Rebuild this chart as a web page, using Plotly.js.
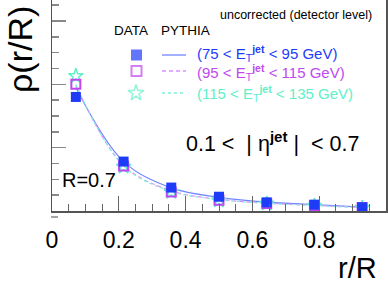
<!DOCTYPE html>
<html><head><meta charset="utf-8">
<script src="https://cdn.plot.ly/plotly-3.0.1.min.js"></script>
<style>html,body{margin:0;padding:0;background:#fff}#c{width:388px;height:287px}</style>
</head><body><div id="c"></div>
<script>
// r/R bin centres
const rR = [0.0714, 0.2143, 0.3571, 0.5, 0.6429, 0.7857, 0.9286];
// DATA (uncorrected), arbitrary units
const data75  = [1.80, 0.78, 0.37, 0.225, 0.137, 0.100, 0.058];
const data95  = [2.00, 0.71, 0.30, 0.170, 0.120, 0.085, 0.055];
const data115 = [2.13, 0.70, 0.30, 0.165, 0.115, 0.080, 0.050];
// PYTHIA curves
const py75  = [1.95, 0.78, 0.365, 0.215, 0.140, 0.100, 0.062];
const py95  = [1.98, 0.72, 0.320, 0.185, 0.125, 0.090, 0.055];
const py115 = [2.00, 0.71, 0.310, 0.180, 0.120, 0.085, 0.052];
const xTickLabels = ["0","0.2","0.4","0.6","0.8","1"];
const xTickVals = [0,0.2,0.4,0.6,0.8,1];
const binLabels = ["(75 < E<sub>T</sub><sup><b>jet</b></sup> < 95 GeV)",
                   "(95 < E<sub>T</sub><sup><b>jet</b></sup> < 115 GeV)",
                   "(115 < E<sub>T</sub><sup><b>jet</b></sup> < 135 GeV)"];

const cBlue='#1e3cf8', cMag='#c048f0', cCyan='#60f0c8';
const lBlue='#7086ff', lMag='#d890ff', lCyan='#80f0d8';
const F='Liberation Sans, Arial, sans-serif';

// pixel -> paper helpers (plot area: x 52..386, y 0..211)
const L=52, R=386, T=0, B=211;
const px = x => (x-L)/(R-L);
const py = y => (B-y)/(B-T);

// legend key symbols, drawn on a pixel-scaled overlay axis
const keyX = [136.5, 136.5, 136];
const keyY = [55, 71, 93];

const traces = [
  {x:rR,y:py75,mode:'lines',line:{color:lBlue,width:1.2,shape:'spline'},hoverinfo:'skip'},
  {x:rR,y:py95,mode:'lines',line:{color:lMag,width:1.2,dash:'4px,3px',shape:'spline'},hoverinfo:'skip'},
  {x:rR,y:py115,mode:'lines',line:{color:lCyan,width:1.2,dash:'dot',shape:'spline'},hoverinfo:'skip'},
  {x:rR,y:data115,mode:'markers',marker:{symbol:'star-open',size:11,color:cCyan,line:{width:1.5,color:cCyan}}},
  {x:rR,y:data95,mode:'markers',marker:{symbol:'square-open',size:9,color:cMag,line:{width:2,color:cMag}}},
  {x:rR,y:data75,mode:'markers',marker:{symbol:'square',size:10,color:cBlue,line:{width:0}}},
  {x:keyX,y:keyY,xaxis:'x2',yaxis:'y2',mode:'markers',cliponaxis:false,
   marker:{symbol:['square','square-open','star-open'],size:[11,10,12],color:[cBlue,cMag,cCyan],
           line:{width:[0,2,1.5],color:[cBlue,cMag,cCyan]}}}
];

const ann = (x,y,text,size,color,extra) => Object.assign({xref:'paper',yref:'paper',x:px(x),y:py(y),text:text,showarrow:false,font:{family:F,size:size,color:color||'#000'},xanchor:'left',yanchor:'middle'},extra||{});

const annotations = [
  ann(112,31,'DATA',13.5),
  ann(159,31,'PYTHIA',13.5),
  ann(218,15,'uncorrected (detector level)',12.5),
  ann(195,54,binLabels[0],15,cBlue),
  ann(195,72,binLabels[1],15,cMag),
  ann(195,93,binLabels[2],15,cCyan),
  ann(184,142,'0.1 <  | η<sup><b>jet</b></sup> |  < 0.7',21.5),
  ann(60,180,'R=0.7',20),
  ann(20,50,'ρ(r/R)',34,'#000',{xanchor:'center',textangle:-90}),
  ann(357,268,'r/R',29,'#000',{xanchor:'center'})
];

const shapes = [
  {type:'line',xref:'paper',yref:'paper',x0:px(162),x1:px(186),y0:py(55),y1:py(55),line:{color:lBlue,width:1.3}},
  {type:'line',xref:'paper',yref:'paper',x0:px(162),x1:px(186),y0:py(71),y1:py(71),line:{color:lMag,width:1.3,dash:'4px,3px'}},
  {type:'line',xref:'paper',yref:'paper',x0:px(162),x1:px(186),y0:py(93),y1:py(93),line:{color:lCyan,width:1.3,dash:'dot'}},
  {type:'line',xref:'paper',yref:'paper',x0:px(51),x1:px(58),y0:py(217),y1:py(217),line:{color:'#888',width:1.5}}
];

const layout = {
  width:388,height:287,
  margin:{l:52,r:2,t:0,b:76,pad:0},
  paper_bgcolor:'#fff',plot_bgcolor:'#fff',
  showlegend:false,
  xaxis:{range:[0,1],showgrid:false,zeroline:false,showline:true,linecolor:'#555',linewidth:1.5,mirror:false,
         ticks:'inside',ticklen:15,tickcolor:'#666',tickwidth:1,tickvals:xTickVals,ticktext:xTickLabels,
         minor:{ticks:'inside',ticklen:7,dtick:0.05,tickcolor:'#666',tickwidth:1,showgrid:false},
         tickfont:{family:F,size:23,color:'#000'},ticklabelstandoff:8,automargin:false},
  yaxis:{range:[0,3.33],showgrid:false,zeroline:false,showline:true,linecolor:'#555',linewidth:1.5,mirror:true,
         ticks:'inside',ticklen:14,tickcolor:'#888',tickwidth:1.5,dtick:1,tick0:0,showticklabels:false,
         minor:{ticks:'inside',ticklen:7,dtick:0.25,tickcolor:'#888',tickwidth:1.5,showgrid:false},automargin:false},
  xaxis2:{range:[L,R],overlaying:'x',anchor:'y2',visible:false,showgrid:false,zeroline:false},
  yaxis2:{range:[B,T],overlaying:'y',anchor:'x2',visible:false,showgrid:false,zeroline:false},
  annotations:annotations,
  shapes:shapes
};
Plotly.newPlot('c',traces,layout,{staticPlot:true,displayModeBar:false});
</script></body></html>
